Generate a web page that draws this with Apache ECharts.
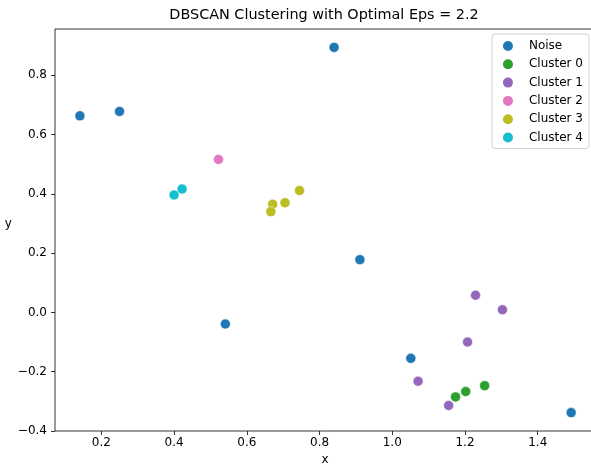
<!DOCTYPE html>
<html>
<head>
<meta charset="utf-8">
<script src="https://cdn.jsdelivr.net/npm/echarts@6/dist/echarts.min.js"></script>
<style>
  html, body { margin: 0; padding: 0; background: #fff; }
  #chart { width: 591px; height: 466px; }
</style>
</head>
<body>
<div id="chart"></div>
<script>
// cluster names and colours (tab10 picks)
const labels = ['Noise', 'Cluster 0', 'Cluster 1', 'Cluster 2', 'Cluster 3', 'Cluster 4']
const colors = ['#1f77b4', '#2ca02c', '#9467bd', '#e377c2', '#bcbd22', '#17becf']

// point coordinates per cluster
const xs = [
  [0.141, 0.250, 0.840, 0.541, 0.911, 1.051, 1.492],
  [1.254, 1.202, 1.174],
  [1.229, 1.303, 1.207, 1.071, 1.155],
  [0.522],
  [0.671, 0.666, 0.705, 0.745],
  [0.400, 0.422]
]
const ys = [
  [0.663, 0.678, 0.894, -0.039, 0.178, -0.155, -0.338],
  [-0.247, -0.267, -0.285],
  [0.058, 0.009, -0.100, -0.232, -0.314],
  [0.516],
  [0.365, 0.340, 0.370, 0.411],
  [0.396, 0.416]
]

// tick labels
const xTicks = [0.2, 0.4, 0.6, 0.8, 1.0, 1.2, 1.4]
const yTicks = [-0.4, -0.2, 0.0, 0.2, 0.4, 0.6, 0.8]

const font = 'DejaVu Sans'
const fmt = v => v.toFixed(1).replace('-', '\u2212')

const chart = echarts.init(document.getElementById('chart'))

const series = labels.map((name, i) => ({
  name: name,
  type: 'scatter',
  symbol: 'circle',
  symbolSize: 10,
  itemStyle: { color: colors[i], borderColor: '#fff', borderWidth: 0.5, opacity: 1 },
  data: xs[i].map((x, j) => [x, ys[i][j]])
}))

chart.setOption({
  animation: false,
  textStyle: { fontFamily: font },
  title: {
    text: 'DBSCAN Clustering with Optimal Eps = 2.2',
    left: 324,
    top: 8,
    textAlign: 'center',
    padding: 0,
    textStyle: { fontFamily: font, fontSize: 14.4, fontWeight: 'normal', color: '#000' }
  },
  legend: {
    data: labels,
    orient: 'vertical',
    right: 2,
    top: 34,
    padding: [5, 6, 4, 9],
    itemGap: 4.3,
    itemWidth: 32,
    itemHeight: 12,
    icon: 'circle',
    borderColor: '#d0d0d0',
    borderWidth: 1,
    borderRadius: 3,
    backgroundColor: 'rgba(255,255,255,0.8)',
    textStyle: { fontFamily: font, fontSize: 12, color: '#000', lineHeight: 14, padding: 0 }
  },
  grid: {
    left: 55, right: -4, top: 29, bottom: 35,
    outerBoundsMode: 'none',
    containLabel: false,
    show: true, borderColor: '#000', borderWidth: 0.8
  },
  xAxis: {
    type: 'value',
    min: 0.0725,
    max: 1.5575,
    name: 'x',
    nameLocation: 'middle',
    nameGap: 23,
    nameTextStyle: { fontFamily: font, fontSize: 12, color: '#000' },
    axisLine: { show: false, onZero: false },
    splitLine: { show: false },
    axisTick: { show: true, inside: false, length: 4, customValues: xTicks, lineStyle: { color: '#000', width: 0.8 } },
    axisLabel: { customValues: xTicks, formatter: fmt, margin: 6, fontFamily: font, fontSize: 12, color: '#000' }
  },
  yAxis: {
    type: 'value',
    min: -0.400,
    max: 0.956,
    name: 'y',
    nameLocation: 'middle',
    nameRotate: 0,
    nameGap: 39,
    nameTextStyle: { fontFamily: font, fontSize: 12, color: '#000', verticalAlign: 'bottom' },
    axisLine: { show: false, onZero: false },
    splitLine: { show: false },
    axisTick: { show: true, inside: false, length: 4, customValues: yTicks, lineStyle: { color: '#000', width: 0.8 } },
    axisLabel: { customValues: yTicks, formatter: fmt, margin: 8, fontFamily: font, fontSize: 12, color: '#000' }
  },
  series: series
})
</script>
</body>
</html>
